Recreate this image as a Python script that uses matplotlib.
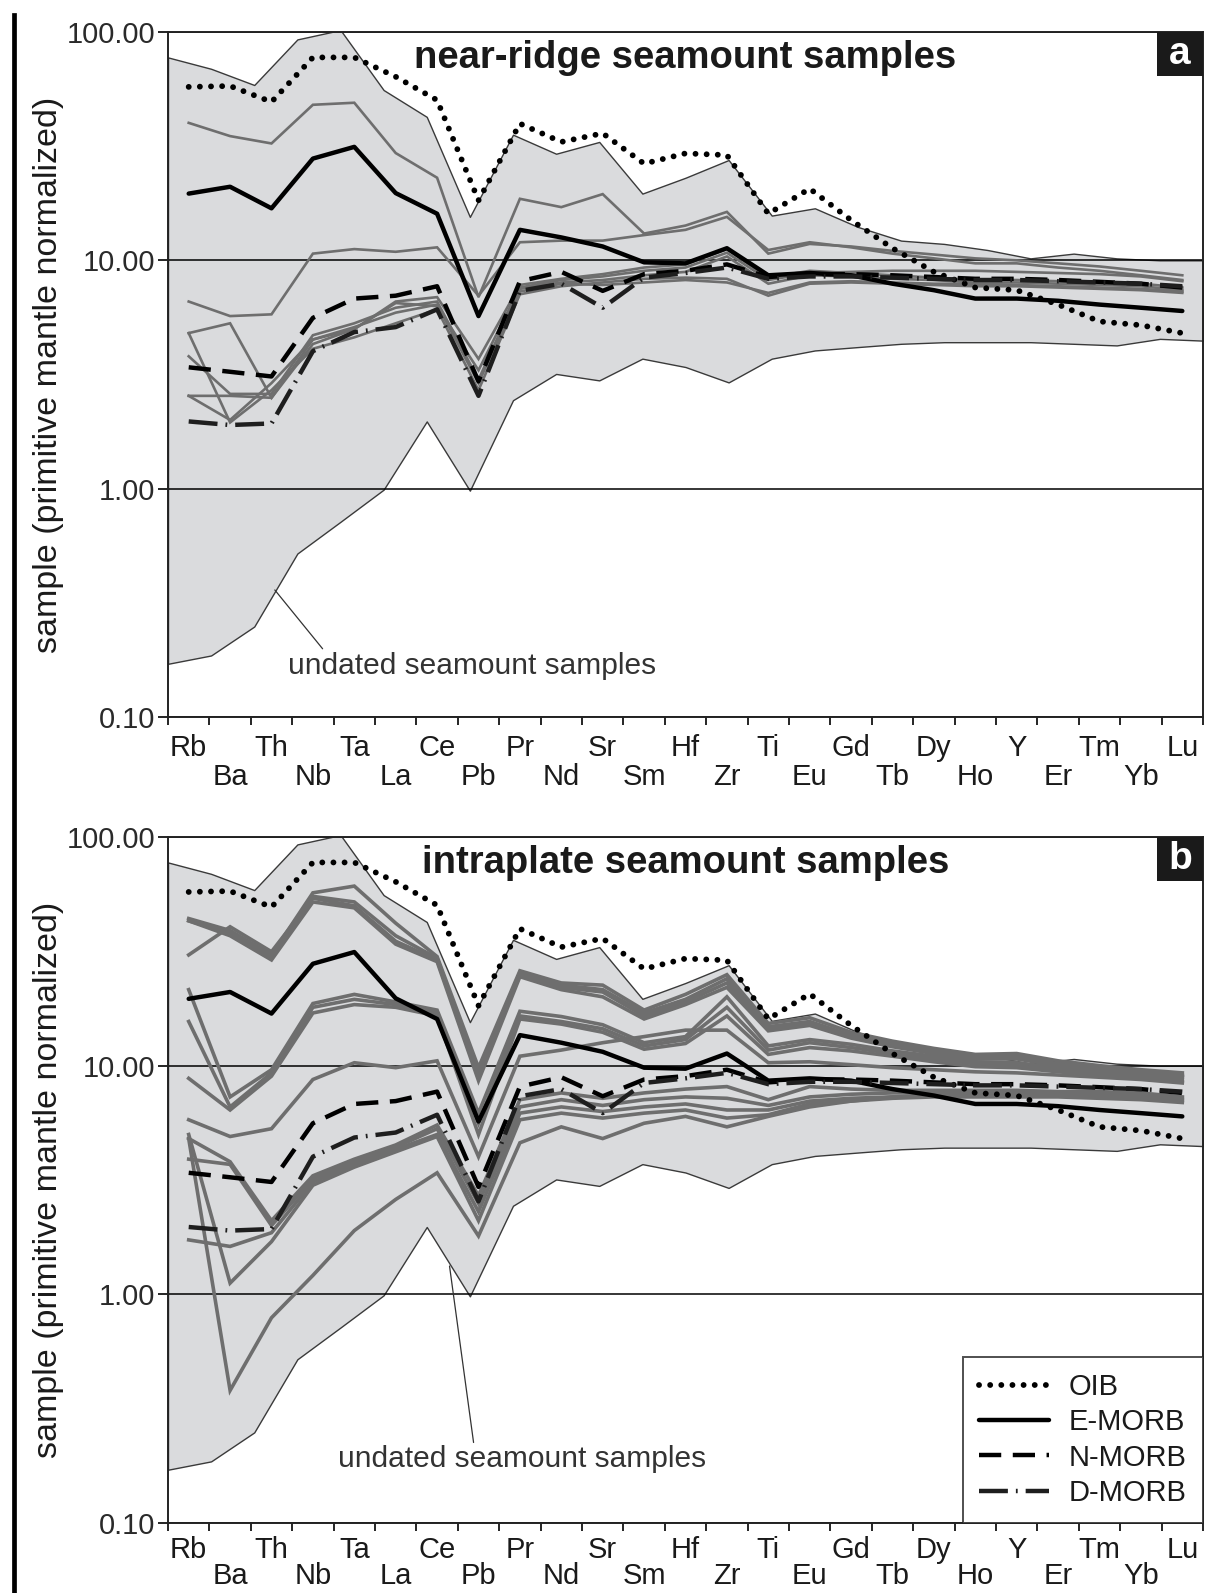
import numpy as np
import matplotlib
matplotlib.use("Agg")
import matplotlib.pyplot as plt
import matplotlib.ticker as mticker
from matplotlib.lines import Line2D
from matplotlib.patches import Rectangle

plt.rcParams["font.family"] = ["Liberation Sans", "DejaVu Sans"]

# element order of the spider diagram
elements = ["Rb", "Ba", "Th", "Nb", "Ta", "La", "Ce", "Pb", "Pr", "Nd", "Sr", "Sm", "Hf",
            "Zr", "Ti", "Eu", "Gd", "Tb", "Dy", "Ho", "Y", "Er", "Tm", "Yb", "Lu"]

# reference basalts (primitive mantle normalized)
oib = [57.5, 58, 49.4, 77.4, 77.4, 63.7, 50.3, 18.3, 39.7, 33, 36, 26.5, 29.4,
       28.9, 16, 20.6, 15, 11.3, 8.9, 7.6, 7.4, 6.4, 5.4, 5.2, 4.8]
e_morb = [19.6, 21, 16.9, 27.9, 31.4, 19.7, 16, 5.7, 13.6, 12.6, 11.5, 9.8, 9.7,
          11.3, 8.6, 8.8, 8.6, 7.9, 7.4, 6.8, 6.8, 6.65, 6.4, 6.2, 6.0]
n_morb = [3.4, 3.25, 3.1, 5.6, 6.8, 7.0, 7.7, 2.95, 8.1, 8.9, 7.35, 8.7, 9.0,
          9.6, 8.45, 8.7, 8.7, 8.6, 8.45, 8.3, 8.3, 8.2, 8.05, 7.9, 7.6]
d_morb = [1.97, 1.9, 1.93, 4.0, 4.85, 5.1, 6.1, 2.55, 7.35, 7.9, 6.2, 8.4, 8.8,
          9.3, 8.3, 8.5, 8.5, 8.4, 8.3, 8.2, 8.2, 8.1, 8.0, 7.9, 7.7]

# field of the undated seamount samples (25 vertices spread over the full width)
envelope_upper = [77.4, 69, 58.6, 92.8, 102, 55.7, 42.5, 15.5, 35.5, 29.3, 33, 19.6, 23,
                  27.5, 15.7, 16.9, 14.0, 12.2, 11.8, 11.1, 10.2, 10.7, 10.2, 10.0, 10.0]
envelope_lower = [0.171, 0.186, 0.249, 0.52, 0.716, 0.99, 1.97, 0.98, 2.44, 3.18, 2.98, 3.71, 3.41,
                  2.92, 3.71, 4.03, 4.17, 4.31, 4.38, 4.38, 4.38, 4.31, 4.24, 4.53, 4.45]

# near-ridge seamount samples (panel a)
near_ridge = [
    [40, 35, 32.5, 48, 49, 29.5, 23, 6.9, 18.6, 17.1, 19.5, 13.1, 14.2, 16.3, 10.7, 11.8, 11.5, 11.0, 10.6, 10.2, 10.0, 9.7, 9.4, 9.0, 8.6],
    [6.6, 5.7, 5.8, 10.7, 11.2, 10.9, 11.4, 7.0, 12.0, 12.2, 12.2, 12.9, 13.6, 15.5, 11.1, 12.0, 11.4, 10.7, 10.2, 9.7, 9.7, 9.3, 9.0, 8.6, 8.2],
    [4.8, 5.3, 2.5, 4.5, 5.0, 6.6, 6.9, 3.7, 7.8, 8.3, 8.7, 9.3, 9.6, 11.2, 8.4, 9.0, 8.8, 8.6, 8.4, 8.2, 8.2, 8.1, 8.0, 7.9, 7.6],
    [3.8, 2.6, 2.6, 4.7, 5.3, 6.2, 6.6, 3.0, 7.5, 8.0, 8.2, 8.6, 8.9, 10.4, 7.9, 8.6, 8.5, 8.3, 8.2, 8.0, 8.0, 7.9, 7.8, 7.7, 7.4],
    [2.55, 2.55, 2.5, 4.3, 5.0, 6.5, 6.3, 3.3, 7.6, 8.2, 8.5, 9.0, 9.3, 10.8, 8.2, 8.8, 8.9, 9.0, 9.0, 9.0, 8.9, 8.8, 8.7, 8.5, 8.1],
    [4.8, 1.95, 2.7, 4.1, 4.6, 5.3, 6.1, 2.7, 7.1, 7.7, 8.0, 8.3, 8.4, 8.3, 7.0, 7.9, 8.0, 7.9, 7.8, 7.7, 7.7, 7.6, 7.5, 7.4, 7.2],
    [2.55, 2.0, 2.9, 4.5, 5.1, 5.9, 6.4, 2.9, 7.3, 7.9, 7.8, 8.0, 8.2, 8.0, 7.2, 8.0, 8.1, 8.0, 7.9, 7.9, 7.8, 7.7, 7.6, 7.5, 7.3],
]

# intraplate seamount samples (panel b)
intraplate = [
    [44, 39, 30.5, 57, 61, 42, 30, 9.8, 26, 23, 22.5, 17.5, 20.5, 25, 15.3, 16.2, 14.0, 12.8, 11.9, 11.2, 11.3, 10.5, 10.0, 9.6, 9.3],
    [43, 38, 29.5, 55, 52, 37, 29.5, 9.3, 25.5, 22.5, 21.5, 17.0, 19.5, 24, 14.8, 15.6, 13.6, 12.5, 11.6, 11.0, 11.0, 10.2, 9.8, 9.4, 9.1],
    [30.5, 40.5, 31.5, 54, 50, 35, 29, 9.0, 25, 22, 21, 16.5, 19, 23, 14.5, 15.3, 13.4, 12.3, 11.5, 10.8, 10.9, 10.1, 9.7, 9.3, 9.0],
    [43, 37, 29, 52, 49, 34, 28.5, 8.6, 24.5, 21.5, 20, 16, 18.5, 22, 14.2, 15, 13.2, 12.1, 11.3, 10.7, 10.7, 10.0, 9.6, 9.2, 8.9],
    [21.5, 7.3, 9.6, 18.7, 20.5, 19, 17.5, 6.2, 17.3, 16.4, 15.1, 12.6, 13.4, 20, 12.2, 13.0, 12.4, 11.6, 11.0, 10.4, 10.3, 9.8, 9.5, 9.2, 8.9],
    [15.6, 6.6, 9.3, 18, 19.5, 18.5, 17, 5.6, 16.5, 15.6, 14.5, 12.2, 13, 18, 11.7, 12.6, 12.0, 11.3, 10.7, 10.2, 10.0, 9.6, 9.3, 9.0, 8.7],
    [8.8, 6.4, 9.0, 17, 18.5, 18, 16.5, 5.0, 16, 15.2, 14, 11.8, 12.5, 16.5, 11.2, 12.0, 11.6, 11.0, 10.4, 9.9, 9.8, 9.4, 9.1, 8.8, 8.5],
    [5.8, 4.9, 5.3, 8.7, 10.3, 9.8, 10.5, 4.0, 11, 11.7, 12.6, 13.4, 14.3, 14.3, 10.3, 10.4, 10.1, 9.8, 9.6, 9.4, 9.3, 9.1, 8.9, 8.7, 8.4],
    [4.8, 3.8, 2.1, 3.3, 3.9, 4.5, 5.5, 2.7, 7.1, 7.6, 7.2, 7.6, 7.9, 8.1, 7.1, 8.1, 7.9, 7.8, 7.8, 7.8, 7.8, 7.7, 7.7, 7.6, 7.3],
    [3.9, 3.7, 2.0, 3.2, 3.8, 4.4, 5.3, 2.5, 6.6, 7.1, 6.7, 7.1, 7.3, 7.2, 6.7, 7.3, 7.5, 7.6, 7.6, 7.6, 7.6, 7.6, 7.5, 7.4, 7.2],
    [1.73, 1.62, 1.86, 3.1, 3.7, 4.3, 5.0, 2.3, 6.2, 6.6, 6.3, 6.6, 6.8, 6.4, 6.4, 7.0, 7.2, 7.3, 7.4, 7.4, 7.4, 7.4, 7.3, 7.2, 7.0],
    [5.0, 1.12, 1.7, 3.0, 3.6, 4.2, 4.9, 2.1, 5.8, 6.2, 5.9, 6.2, 6.4, 5.9, 6.1, 6.8, 7.0, 7.2, 7.3, 7.3, 7.3, 7.3, 7.2, 7.1, 6.9],
    [4.8, 0.38, 0.79, 1.21, 1.9, 2.6, 3.4, 1.8, 4.6, 5.4, 4.8, 5.6, 6.0, 5.4, 6.0, 6.6, 7.0, 7.3, 7.4, 7.5, 7.5, 7.5, 7.4, 7.3, 7.1],
]

y_ticks = [0.1, 1, 10, 100]

REF_LINES = [
    ("OIB", oib, dict(color="black", lw=4.2, linestyle=(0, (0.01, 1.9)), dash_capstyle="round")),
    ("E-MORB", e_morb, dict(color="black", lw=3.2, solid_capstyle="round")),
    ("N-MORB", n_morb, dict(color="black", lw=3.2, linestyle=(0, (5, 2.6)))),
    ("D-MORB", d_morb, dict(color="#1e1e1e", lw=3.2, linestyle=(0, (6.5, 1.8, 0.4, 1.8)))),
]

TEXT_COLOR = "#1a1a1a"
FIELD_COLOR = "#dadbdd"
SAMPLE_COLOR = "#6e6e6e"


def draw_panel(ax, samples, title, tag, sample_lw, note_xy, note_text_xy, note_relpos,
               label_pad=12, label_spacing=1.05):
    n = len(elements)
    x = np.arange(n) + 0.5
    x_env = np.linspace(0, n, n)

    ax.fill_between(x_env, envelope_lower, envelope_upper, facecolor=FIELD_COLOR,
                    edgecolor="#3a3a3a", linewidth=1.0, zorder=1)

    for s in samples:
        ax.plot(x, s, color=SAMPLE_COLOR, lw=sample_lw, solid_joinstyle="miter", zorder=2)

    for name, vals, style in REF_LINES:
        ax.plot(x, vals, label=name, zorder=3, **style)

    ax.set_yscale("log")
    ax.set_ylim(0.1, 100)
    ax.set_xlim(0, n)
    ax.set_yticks(y_ticks)
    ax.yaxis.set_major_formatter(mticker.FormatStrFormatter("%.2f"))
    ax.yaxis.set_minor_locator(mticker.NullLocator())
    ax.yaxis.grid(True, which="major", color="black", lw=1.1)

    # boundaries carry the tick marks, element names sit in between, on two rows
    ax.set_xticks(np.arange(n + 1))
    ax.set_xticklabels([])
    ax.set_xticks(x, minor=True)
    labels = [e if i % 2 == 0 else "\n" + e for i, e in enumerate(elements)]
    ax.set_xticklabels(labels, minor=True, linespacing=label_spacing)
    ax.tick_params(axis="x", which="major", direction="out", length=6, width=1.2)
    ax.tick_params(axis="x", which="minor", length=0, pad=label_pad, labelsize=21,
                   labelcolor=TEXT_COLOR)
    ax.tick_params(axis="y", which="major", direction="out", length=7, width=1.2, pad=2,
                   labelsize=21, labelcolor="#2a2a2a")

    for sp in ax.spines.values():
        sp.set_linewidth(1.4)
        sp.set_color("#222222")

    ax.set_ylabel("sample (primitive mantle normalized)", fontsize=24.5, color=TEXT_COLOR)
    ax.yaxis.set_label_coords(-0.1, 0.5)

    ax.text(0.5, 1 - 26 / 686, title, transform=ax.transAxes, ha="center", va="center",
            fontsize=27.5, fontweight="bold", color=TEXT_COLOR)

    bw, bh = 0.0444, 0.064
    ax.add_patch(Rectangle((1 - bw, 1 - bh), bw, bh, transform=ax.transAxes,
                           facecolor="#1a1a1a", edgecolor="none", zorder=5, clip_on=False))
    ax.text(1 - bw / 2, 1 - bh / 2, tag, transform=ax.transAxes, ha="center", va="center",
            fontsize=28, fontweight="bold", color="white", zorder=6)

    ax.annotate("undated seamount samples", xy=note_xy, xytext=note_text_xy,
                ha="left", va="center", fontsize=21.5, color="#333333",
                arrowprops=dict(arrowstyle="-", color="#333333", lw=0.9,
                                shrinkA=0, shrinkB=0, relpos=note_relpos))


fig = plt.figure(figsize=(12.06, 15.93), dpi=100)
W, H = 1206, 1593
ax_a = fig.add_axes([168 / W, 1 - 717 / H, 1035 / W, 685 / H])
ax_b = fig.add_axes([168 / W, 1 - 1523 / H, 1035 / W, 686 / H])

draw_panel(ax_a, near_ridge, "near-ridge seamount samples", "a", 1.9,
           (2.58, 0.36), (2.9, 0.168), (0.1, 1.0))
draw_panel(ax_b, intraplate, "intraplate seamount samples", "b", 2.6,
           (6.8, 1.33), (4.1, 0.19), (0.37, 1.0), label_pad=9, label_spacing=0.93)

leg = ax_b.legend(loc="lower right", bbox_to_anchor=(1, 0), borderaxespad=0, fontsize=21,
                  frameon=True, fancybox=False, edgecolor="#222222", handlelength=2.4,
                  handletextpad=0.7, borderpad=0.55, labelspacing=0.25)
leg.get_frame().set_linewidth(1.4)
for t in leg.get_texts():
    t.set_color(TEXT_COLOR)

# page margin bar on the left
fig.add_artist(Line2D([14 / W, 14 / W], [0, 1 - 15 / H], color="black", lw=3.4,
                      transform=fig.transFigure))

fig.savefig("out.png", dpi=100)
